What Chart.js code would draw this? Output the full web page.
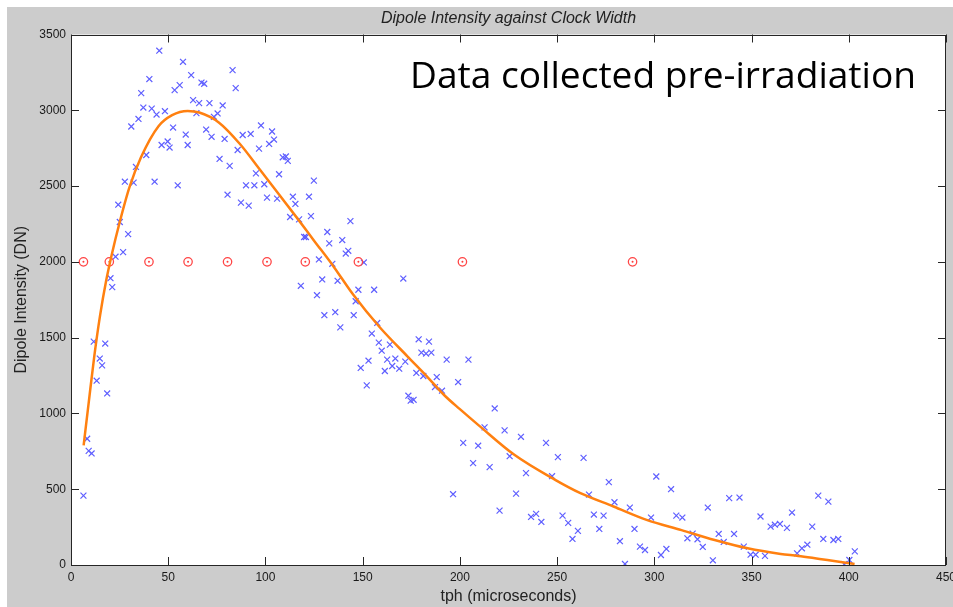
<!DOCTYPE html>
<html>
<head>
<meta charset="utf-8">
<script src="https://cdn.jsdelivr.net/npm/chart.js@4.4.1/dist/chart.umd.min.js"></script>
<style>
  html, body { margin: 0; padding: 0; background: #fff; }
  #wrap { position: relative; width: 953px; height: 607px; }
</style>
</head>
<body>
<div id="wrap"><canvas id="dipoleChart" width="953" height="607"></canvas></div>
<script>
// measured points (tph in microseconds, intensity in DN)
const tph = [6.4, 8.3, 9.1, 10.6, 11.7, 13.2, 14.8, 16.0, 17.6, 18.6, 20.3, 21.2, 22.9, 24.3, 25.1, 26.8, 27.7, 29.4,
  31.0, 32.2, 33.4, 34.7, 36.1, 37.2, 38.7, 40.3, 41.5, 43.0, 44.0, 45.4, 46.6, 48.3, 49.7, 50.7, 52.5, 53.3, 54.9,
  55.9, 57.6, 59.0, 60.0, 61.8, 62.8, 64.5, 65.9, 67.1, 68.5, 69.5, 71.2, 72.3, 73.5, 75.4, 76.4, 78.0, 79.0, 80.5,
  81.6, 83.1, 84.7, 85.7, 87.4, 88.3, 90.0, 91.4, 92.4, 94.3, 95.1, 96.7, 97.7, 99.4, 100.8, 101.9, 103.4, 104.4,
  106.0, 107.0, 108.9, 110.5, 111.5, 112.7, 114.1, 115.4, 117.3, 118.2, 119.9, 120.8, 122.4, 123.4, 124.9, 126.5,
  127.5, 129.2, 130.3, 131.8, 132.8, 134.4, 135.9, 137.1, 138.5, 139.5, 141.3, 142.6, 143.7, 145.4, 146.4, 147.8,
  149.0, 150.6, 152.1, 153.0, 154.7, 155.9, 157.5, 158.3, 159.8, 161.4, 162.6, 164.0, 165.2, 166.8, 168.8, 170.9,
  171.9, 173.5, 174.7, 176.2, 177.6, 178.8, 180.2, 181.2, 182.6, 184.1, 185.3, 187.2, 188.1, 190.8, 193.2, 196.5,
  199.1, 201.7, 204.4, 206.8, 209.4, 212.7, 215.3, 217.9, 220.4, 223.0, 225.6, 228.9, 231.4, 234.0, 236.6, 239.2,
  241.9, 244.3, 247.4, 250.4, 252.8, 255.7, 257.9, 260.7, 263.6, 266.4, 268.9, 271.7, 273.9, 276.6, 279.5, 282.3,
  284.9, 287.4, 289.8, 292.6, 295.2, 298.3, 301.0, 303.4, 306.2, 308.6, 311.3, 314.4, 317.0, 319.7, 322.2, 324.9,
  327.5, 330.1, 333.1, 335.7, 338.5, 341.0, 343.8, 346.0, 349.5, 352.1, 354.6, 356.9, 359.8, 362.0, 364.6, 368.2,
  370.8, 373.4, 375.9, 378.7, 381.2, 384.3, 386.9, 389.5, 392.1, 394.6, 397.7, 400.3, 403.1];
const intensity = [458, 833, 753, 736, 1474, 1216, 1362, 1317, 1461, 1132, 1892, 1833, 2034, 2377, 2263, 2064, 2529, 2183,
  2893, 2523, 2626, 2943, 3113, 3018, 2705, 3206, 3011, 2529, 2972, 3393, 2771, 2994, 2794, 2754, 2886, 3133, 2505,
  3166, 3320, 2840, 2771, 3232, 3067, 2981, 3047, 3183, 3175, 2873, 3047, 2825, 2957, 2979, 2679, 3032, 2811, 2443,
  2633, 3265, 3146, 2738, 2391, 2837, 2505, 2371, 2844, 2505, 2584, 2747, 2900, 2512, 2424, 2778, 2860, 2807,
  2417, 2578, 2690, 2695, 2666, 2296, 2430, 2382, 2280, 1842, 2164, 2164, 2430, 2302, 2536, 1780,
  2016, 1884, 1648, 2197, 2122, 1987, 1668, 1875, 1568, 2144, 2055, 2073, 2269, 1648, 1740, 1816,
  1300, 1996, 1185, 1348, 1527, 1816, 1597, 1467, 1414, 1280, 1355, 1454, 1313, 1362, 1295, 1890,
  1342, 1117, 1084, 1090, 1267, 1489, 1401, 1247, 1395, 1474, 1401, 1174, 1240, 1150, 1355, 467,
  1207, 806, 1355, 672, 787, 908, 646, 1033, 359, 888, 718, 471, 846, 606, 317, 337,
  284, 806, 586, 712, 326, 278, 172, 225, 707, 465, 333, 238, 326, 547, 414, 157,
  7, 379, 238, 121, 99, 313, 584, 66, 106, 500, 326, 313, 176, 207, 170, 119,
  379, 31, 205, 152, 441, 205, 445, 121, 68, 68, 320, 60, 253, 266, 271, 245,
  346, 77, 110, 134, 253, 458, 172, 418, 165, 172, 5, 33, 90];

// fitted curve
const fitTph = [6.5, 9, 12, 15, 18, 21, 25, 30, 36, 45, 52, 60, 66, 76, 87, 97, 107, 117, 125, 135, 145, 159, 173,
  183, 192, 200, 210, 228, 249, 262, 279, 296, 314, 331, 348, 365, 374, 385, 395, 403];
const fitIntensity = [789, 1060, 1380, 1650, 1870, 2050, 2260, 2490, 2690, 2895, 2968, 2996, 2985, 2920, 2776, 2611,
  2445, 2277, 2140, 1970, 1786, 1565, 1377, 1245, 1120, 1028, 918, 727, 562, 474, 386, 298, 230, 165, 110, 73, 60,
  40, 22, 7];

// red reference markers
const refTph = [6.4, 19.7, 40.1, 60.2, 80.5, 100.8, 120.5, 147.8, 201.3, 288.8];
const refIntensity = [2000, 2000, 2000, 2000, 2000, 2000, 2000, 2000, 2000, 2000];

const xTicks = [0, 50, 100, 150, 200, 250, 300, 350, 400, 450];
const yTicks = [0, 500, 1000, 1500, 2000, 2500, 3000, 3500];

const chartTitle = 'Dipole Intensity against Clock Width';
const noteText = 'Data collected pre-irradiation';

const toPoints = (xs, ys) => xs.map((v, i) => ({ x: v, y: ys[i] }));
const tickFont = { family: '"Liberation Sans", Arial, sans-serif', size: 12 };
const labelFont = { family: '"Liberation Sans", Arial, sans-serif', size: 16 };

const matlabFrame = {
  id: 'matlabFrame',
  beforeDraw(chart) {
    const { ctx, chartArea: a } = chart;
    ctx.save();
    ctx.fillStyle = '#ffffff';
    ctx.fillRect(0, 0, chart.width, chart.height);
    ctx.fillStyle = '#cccccc';
    ctx.fillRect(7, 7, chart.width - 7, chart.height - 7);
    ctx.fillStyle = '#ffffff';
    ctx.fillRect(a.left, a.top, a.right - a.left, a.bottom - a.top);
    ctx.restore();
  },
  afterDraw(chart) {
    const { ctx, chartArea: a, scales } = chart;
    const tl = 8;
    ctx.save();
    ctx.strokeStyle = '#262626';
    ctx.lineWidth = 1;
    ctx.beginPath();
    xTicks.forEach(v => {
      const px = Math.round(scales.x.getPixelForValue(v)) + 0.5;
      ctx.moveTo(px, a.bottom); ctx.lineTo(px, a.bottom - tl);
      ctx.moveTo(px, a.top); ctx.lineTo(px, a.top + tl);
    });
    yTicks.forEach(v => {
      const py = Math.round(scales.y.getPixelForValue(v)) + 0.5;
      ctx.moveTo(a.left, py); ctx.lineTo(a.left + tl, py);
      ctx.moveTo(a.right, py); ctx.lineTo(a.right - tl, py);
    });
    ctx.stroke();
    ctx.strokeRect(Math.round(a.left) + 0.5, Math.round(a.top) + 0.5,
      Math.round(a.right - a.left) - 1, Math.round(a.bottom - a.top) - 1);

    ctx.fillStyle = '#222222';
    ctx.font = 'italic 16px "Liberation Sans", Arial, sans-serif';
    ctx.textAlign = 'center';
    ctx.textBaseline = 'middle';
    ctx.fillText(chartTitle, (a.left + a.right) / 2, 19);

    // big annotation, squeezed to the width it has in the slide
    ctx.fillStyle = '#000000';
    ctx.font = '37px "Open Sans", "Noto Sans", sans-serif';
    ctx.textAlign = 'left';
    ctx.textBaseline = 'alphabetic';
    const w = ctx.measureText(noteText).width;
    ctx.translate(410, 87.5);
    ctx.scale(506 / w, 1);
    ctx.fillText(noteText, 0, 0);
    ctx.restore();
  }
};

const ctx = document.getElementById('dipoleChart').getContext('2d');
const dipoleChart = new Chart(ctx, {
  type: 'scatter',
  data: {
    datasets: [{
      type: 'line',
      data: toPoints(fitTph, fitIntensity),
      borderColor: 'rgb(255, 128, 16)',
      borderWidth: 2.5,
      pointRadius: 0,
      fill: false,
      cubicInterpolationMode: 'monotone'
    }, {
      data: toPoints(refTph, refIntensity),
      pointStyle: 'circle',
      pointRadius: 1,
      backgroundColor: 'rgb(255, 60, 60)',
      borderColor: 'rgb(255, 60, 60)',
      borderWidth: 0
    }, {
      data: toPoints(refTph, refIntensity),
      pointStyle: 'circle',
      pointRadius: 4.2,
      backgroundColor: 'rgba(0,0,0,0)',
      borderColor: 'rgb(255, 70, 70)',
      borderWidth: 1.3
    }, {
      data: toPoints(tph, intensity),
      pointStyle: 'crossRot',
      pointRadius: 4.2,
      borderColor: 'rgb(95, 95, 255)',
      borderWidth: 1.2
    }]
  },
  options: {
    responsive: false,
    animation: false,
    events: [],
    layout: { padding: { left: 0, top: 34.5, right: 7, bottom: 0 } },
    plugins: {
      legend: { display: false },
      tooltip: { enabled: false }
    },
    scales: {
      x: {
        type: 'linear',
        min: 0,
        max: 450,
        afterBuildTicks: scale => { scale.ticks = xTicks.map(v => ({ value: v })); },
        afterFit: scale => {
          scale.height = 42;
          scale.paddingLeft = 0;
          scale.paddingRight = 0;
        },
        grid: { display: false, drawTicks: false },
        border: { display: false },
        ticks: {
          font: tickFont, color: '#1a1a1a', padding: 5, maxRotation: 0, autoSkip: false,
          callback: v => String(v)
        },
        title: {
          display: true,
          text: 'tph (microseconds)',
          font: labelFont,
          color: '#222',
          padding: { top: 0, bottom: 1 }
        }
      },
      y: {
        type: 'linear',
        min: 0,
        max: 3500,
        afterBuildTicks: scale => { scale.ticks = yTicks.map(v => ({ value: v })); },
        afterFit: scale => {
          scale.width = 71;
          scale.paddingTop = 0;
          scale.paddingBottom = 0;
        },
        grid: { display: false, drawTicks: false },
        border: { display: false },
        ticks: { font: tickFont, color: '#1a1a1a', padding: 5, callback: v => String(v) },
        title: {
          display: true,
          text: 'Dipole Intensity (DN)',
          font: labelFont,
          color: '#222',
          padding: { top: 12, bottom: 0 }
        }
      }
    }
  },
  plugins: [matlabFrame]
});
</script>
</body>
</html>
